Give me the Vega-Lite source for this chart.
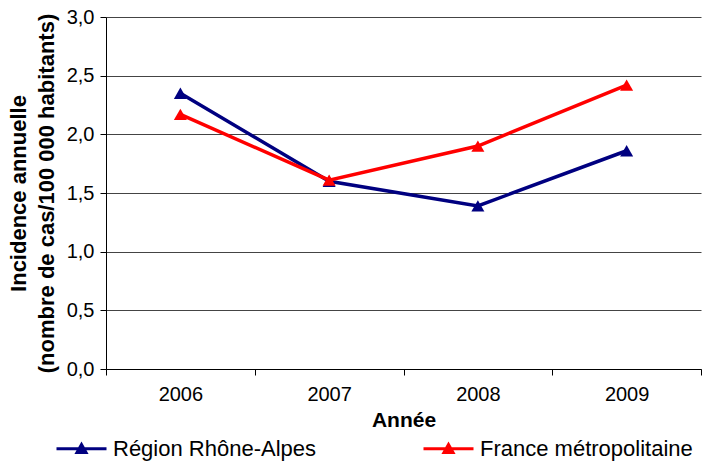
{
  "$schema": "https://vega.github.io/schema/vega-lite/v6.json",
  "width": 595,
  "height": 352,
  "autosize": {"type": "none"},
  "padding": {"left": 106, "top": 17, "right": 19, "bottom": 93},
  "background": "white",
  "config": {
    "locale": {"number": {"decimal": ",", "thousands": " ", "grouping": [3], "currency": ["", " €"]}},
    "font": "Liberation Sans",
    "view": {"stroke": null},
    "axis": {"labelFont": "Liberation Sans", "titleFont": "Liberation Sans", "labelColor": "black", "titleColor": "black", "domainColor": "black", "tickColor": "black", "domainWidth": 1, "tickWidth": 1}
  },
  "data": {
    "values": [
      {"annee": "2006", "serie": "Région Rhône-Alpes", "valeur": 2.35},
      {"annee": "2007", "serie": "Région Rhône-Alpes", "valeur": 1.60},
      {"annee": "2008", "serie": "Région Rhône-Alpes", "valeur": 1.39},
      {"annee": "2009", "serie": "Région Rhône-Alpes", "valeur": 1.86},
      {"annee": "2006", "serie": "France métropolitaine", "valeur": 2.17},
      {"annee": "2007", "serie": "France métropolitaine", "valeur": 1.61},
      {"annee": "2008", "serie": "France métropolitaine", "valeur": 1.90},
      {"annee": "2009", "serie": "France métropolitaine", "valeur": 2.42}
    ]
  },
  "encoding": {
    "x": {
      "field": "annee", "type": "ordinal",
      "scale": {"type": "band", "paddingInner": 0, "paddingOuter": 0},
      "axis": {"title": "Année", "titleFontSize": 21, "titleFontWeight": "bold", "titlePadding": 5, "labelFontSize": 20, "labelAngle": 0, "labelPadding": 9, "tickSize": 6, "tickBand": "extent", "grid": false}
    },
    "y": {
      "field": "valeur", "type": "quantitative",
      "scale": {"domain": [0, 3], "nice": false, "zero": true},
      "axis": {"title": ["Incidence annuelle", "(nombre de cas/100 000 habitants)"], "titleFontSize": 22, "titleFontWeight": "bold", "titleLineHeight": 28, "titlePadding": 8, "labelFontSize": 20, "labelPadding": 6, "tickSize": 6, "values": [0, 0.5, 1, 1.5, 2, 2.5, 3], "format": ".1f", "grid": true, "gridColor": "#444444", "gridWidth": 1}
    },
    "color": {
      "field": "serie", "type": "nominal",
      "scale": {"domain": ["Région Rhône-Alpes", "France métropolitaine"], "range": ["#000080", "#FF0000"]},
      "legend": {
        "title": null, "orient": "none", "direction": "horizontal",
        "legendX": -51, "legendY": 405, "padding": 0,
        "symbolType": "M-1,0H1M-0.18,0.15L0,-0.17L0.18,0.15Z",
        "symbolSize": 2500, "symbolStrokeWidth": 3,
        "labelFont": "Liberation Sans", "labelFontSize": 22, "labelColor": "black", "labelLimit": 500,
        "labelOffset": 5, "columnPadding": 100,
        "encode": {"symbols": {"update": {"stroke": {"scale": "color", "field": "value"}, "fill": {"scale": "color", "field": "value"}, "fillOpacity": {"value": 1}}}}
      }
    }
  },
  "layer": [
    {"mark": {"type": "line", "strokeWidth": 3.5}},
    {"mark": {"type": "point", "shape": "triangle-up", "filled": true, "size": 170, "opacity": 1}}
  ]
}
